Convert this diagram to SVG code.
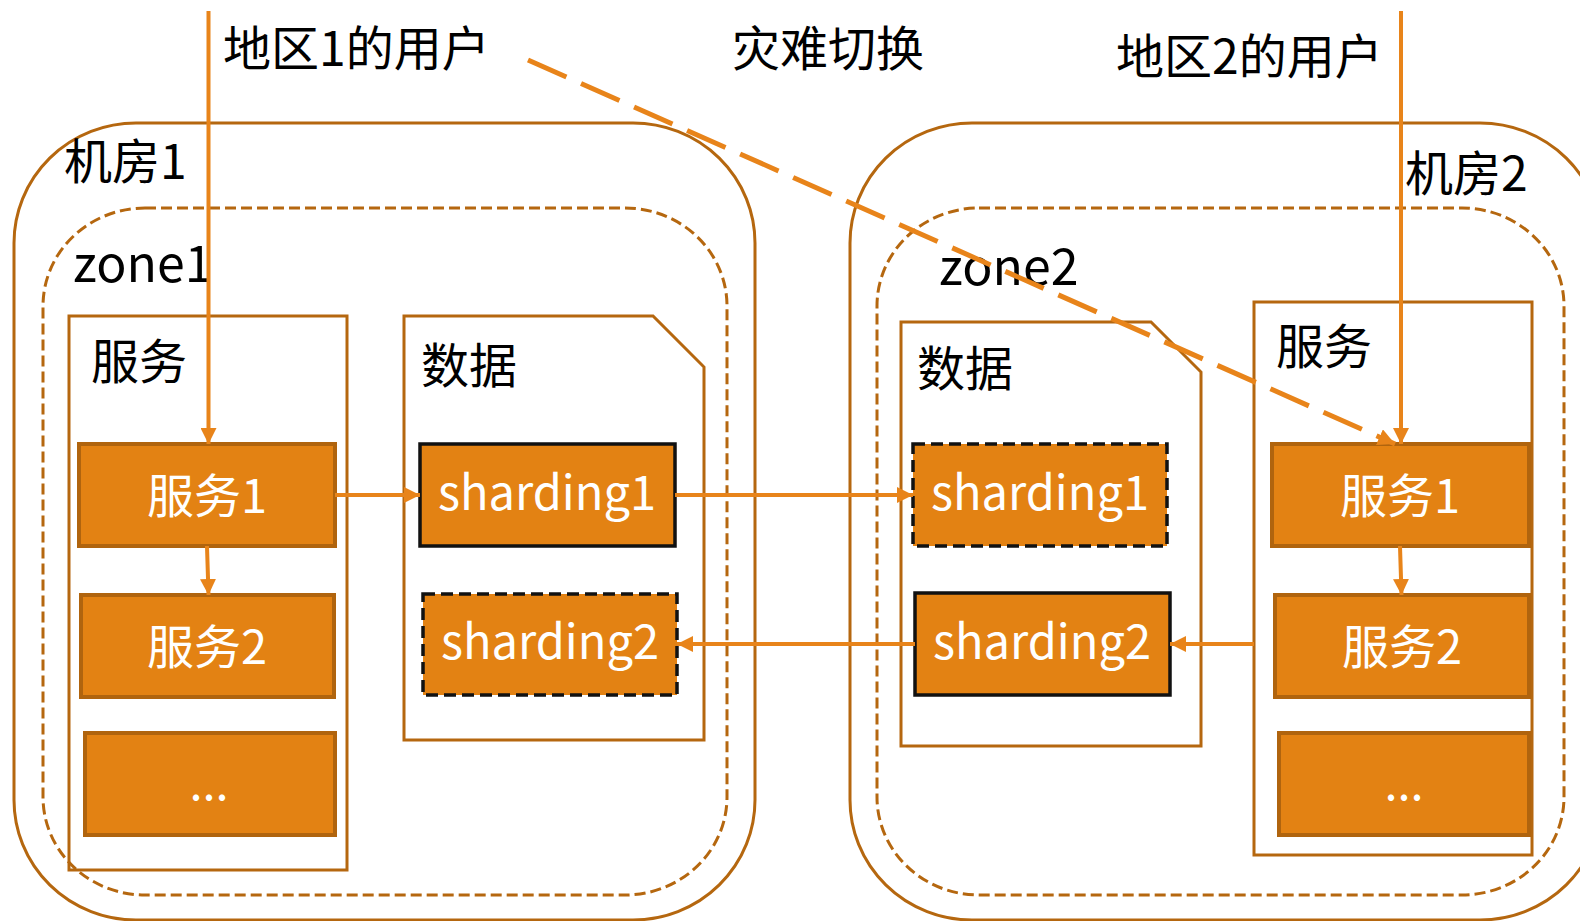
<svg xmlns="http://www.w3.org/2000/svg" width="1580" height="921" viewBox="0 0 1580 921">
<defs>
<style>
.room{fill:none;stroke:#B5670F;stroke-width:3}
.zone{fill:none;stroke:#B5670F;stroke-width:3;stroke-dasharray:11 5}
.cont{fill:none;stroke:#B5670F;stroke-width:3}
.box{fill:#E38213;stroke:#B0640E;stroke-width:4}
.sh{fill:#E38213;stroke:#111;stroke-width:3.5}
.shd{fill:#E38213;stroke:#111;stroke-width:3.5;stroke-dasharray:12 6}
.lbl{font-family:"Noto Sans CJK SC","Liberation Sans",sans-serif;font-size:48px;fill:#000}
.zl{font-size:50px}
.bt{font-family:"Noto Sans CJK SC","Liberation Sans",sans-serif;font-size:47px;fill:#fff;text-anchor:middle}
.ln{fill:none;stroke:#E8841A;stroke-width:4}
.dl{fill:none;stroke:#E8841A;stroke-width:5;stroke-dasharray:42 16}
</style>
<marker id="ah" viewBox="0 0 10 10" refX="10" refY="5" markerWidth="4" markerHeight="4" markerUnits="strokeWidth" orient="auto">
<path d="M0,0 L10,5 L0,10 Z" fill="#E8841A"/>
</marker>
<marker id="ah2" viewBox="0 0 10 10" refX="10" refY="5" markerWidth="3.4" markerHeight="3.4" markerUnits="strokeWidth" orient="auto">
<path d="M0,0 L10,5 L0,10 Z" fill="#E8841A"/>
</marker>
</defs>
<rect width="1580" height="921" fill="#fff"/>

<g id="room1">
<rect class="room" x="14" y="123" width="741" height="797" rx="122" ry="120"/>
<text class="lbl" x="64" y="179">机房1</text>
</g>
<g id="room2">
<rect class="room" x="850" y="123" width="752" height="797" rx="122" ry="120"/>
<text class="lbl" x="1405" y="191">机房2</text>
</g>
<g id="zone1">
<rect class="zone" x="43" y="208" width="684" height="687" rx="102" ry="98"/>
<text class="lbl zl" x="73" y="282">zone1</text>
</g>
<g id="zone2">
<rect class="zone" x="877" y="208" width="687" height="687" rx="102" ry="98"/>
<text class="lbl zl" x="939" y="285">zone2</text>
</g>

<g id="svc1-container">
<rect class="cont" x="69" y="316" width="278" height="554"/>
<text class="lbl" x="91" y="379">服务</text>
</g>
<g id="data1-container">
<path class="cont" d="M404,316 L653,316 L704,367 L704,740 L404,740 Z"/>
<text class="lbl" x="421" y="383">数据</text>
</g>
<g id="data2-container">
<path class="cont" d="M901,322 L1151,322 L1201,372 L1201,746 L901,746 Z"/>
<text class="lbl" x="917" y="386">数据</text>
</g>
<g id="svc2-container">
<rect class="cont" x="1254" y="302" width="278" height="553"/>
<text class="lbl" x="1276" y="364">服务</text>
</g>

<g id="r1-svc1">
<rect class="box" x="79" y="444" width="256" height="102"/>
<text class="bt" x="207" y="513">服务1</text>
</g>
<g id="r1-svc2">
<rect class="box" x="81" y="595" width="253" height="102"/>
<text class="bt" x="207" y="664">服务2</text>
</g>
<g id="r1-more">
<rect class="box" x="85" y="733" width="250" height="102"/>
<text class="bt" x="209" y="800">...</text>
</g>
<g id="r1-sharding1">
<rect class="sh" x="420" y="444" width="255" height="102"/>
<text class="bt" x="547" y="510">sharding1</text>
</g>
<g id="r1-sharding2">
<rect class="shd" x="423" y="594" width="254" height="101"/>
<text class="bt" x="550" y="659">sharding2</text>
</g>
<g id="r2-sharding1">
<rect class="shd" x="913" y="444" width="254" height="102"/>
<text class="bt" x="1040" y="510">sharding1</text>
</g>
<g id="r2-sharding2">
<rect class="sh" x="915" y="593" width="255" height="102"/>
<text class="bt" x="1042" y="659">sharding2</text>
</g>
<g id="r2-svc1">
<rect class="box" x="1272" y="444" width="257" height="102"/>
<text class="bt" x="1400" y="513">服务1</text>
</g>
<g id="r2-svc2">
<rect class="box" x="1275" y="595" width="254" height="102"/>
<text class="bt" x="1402" y="664">服务2</text>
</g>
<g id="r2-more">
<rect class="box" x="1279" y="733" width="250" height="102"/>
<text class="bt" x="1404" y="800">...</text>
</g>

<g id="labels">
<text class="lbl" x="223" y="66">地区1的用户</text>
<text class="lbl" x="732" y="66">灾难切换</text>
<text class="lbl" x="1116" y="74">地区2的用户</text>
</g>

<g id="connectors">
<line class="ln" x1="208.5" y1="11" x2="208.5" y2="444" marker-end="url(#ah)"/>
<line class="ln" x1="207" y1="546" x2="208.5" y2="595" marker-end="url(#ah)"/>
<line class="ln" x1="335" y1="495" x2="420" y2="495" marker-end="url(#ah)"/>
<line class="ln" x1="675" y1="495" x2="913" y2="495" marker-end="url(#ah)"/>
<line class="ln" x1="1254" y1="644" x2="1170" y2="644" marker-end="url(#ah)"/>
<line class="ln" x1="915" y1="644" x2="677" y2="644" marker-end="url(#ah)"/>
<line class="ln" x1="1401" y1="11" x2="1401" y2="444" marker-end="url(#ah)"/>
<line class="ln" x1="1400" y1="546" x2="1401.5" y2="595" marker-end="url(#ah)"/>
<line class="dl" x1="528" y1="60" x2="1395" y2="444" marker-end="url(#ah2)"/>
</g>
</svg>
